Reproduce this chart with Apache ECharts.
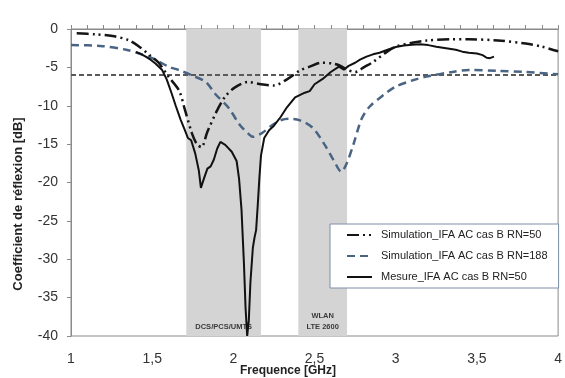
<!DOCTYPE html>
<html>
<head>
<meta charset="utf-8">
<script src="https://cdn.jsdelivr.net/npm/echarts@6/dist/echarts.min.js"></script>
<style>html,body{margin:0;padding:0;background:#fff}#c{width:565px;height:378px}</style>
</head>
<body>
<div id="c"></div>
<script>
// Simulation_IFA AC cas B RN=50 (dash-dot-dot)
var simRN50Freq = [1.035,1.15,1.256,1.36,1.42,1.49,1.54,1.60,1.665,1.70,1.745,1.775,1.803,1.84,1.90,1.95,2.01,2.09,2.17,2.25,2.335,2.41,2.47,2.54,2.61,2.66,2.70,2.75,2.81,2.86,2.93,3.0,3.1,3.19,3.33,3.45,3.63,3.80,3.90,4.0];
var simRN50Db   = [-0.55,-0.7,-0.9,-1.5,-2.3,-3.5,-4.4,-6.2,-8.0,-10.4,-13.6,-15.0,-15.4,-13.4,-10.6,-8.8,-7.6,-6.9,-7.2,-7.35,-6.5,-5.4,-4.9,-4.4,-4.5,-4.8,-5.3,-5.6,-4.9,-4.3,-3.2,-2.3,-1.8,-1.5,-1.35,-1.35,-1.5,-1.9,-2.3,-2.9];
// Simulation_IFA AC cas B RN=188 (dashed)
var simRN188Freq = [1.0,1.18,1.34,1.42,1.51,1.60,1.665,1.745,1.83,1.89,1.97,2.04,2.09,2.12,2.18,2.24,2.29,2.34,2.41,2.49,2.56,2.62,2.665,2.70,2.74,2.79,2.84,2.925,3.0,3.11,3.19,3.35,3.45,3.63,3.80,4.0];
var simRN188Db   = [-2.1,-2.2,-2.7,-3.2,-3.9,-4.9,-5.35,-6.05,-6.9,-8.5,-10.25,-12.5,-13.6,-14.05,-13.5,-12.5,-11.9,-11.7,-11.9,-12.9,-15.0,-17.2,-18.6,-17.4,-15.0,-11.7,-10.1,-8.6,-7.5,-6.65,-6.2,-5.6,-5.35,-5.45,-5.6,-5.9];
// Mesure_IFA AC cas B RN=50 (solid)
var mesFreq = [1.40,1.43,1.46,1.49,1.52,1.56,1.59,1.62,1.645,1.675,1.70,1.72,1.74,1.765,1.787,1.80,1.817,1.84,1.86,1.88,1.90,1.92,1.95,1.99,2.02,2.035,2.05,2.065,2.075,2.085,2.095,2.105,2.12,2.13,2.14,2.15,2.16,2.17,2.19,2.22,2.25,2.29,2.33,2.38,2.44,2.47,2.5,2.55,2.6,2.65,2.68,2.71,2.75,2.78,2.82,2.86,2.9,2.95,3.0,3.05,3.1,3.15,3.2,3.25,3.31,3.37,3.41,3.45,3.5,3.535,3.56,3.58,3.605];
var mesDb   = [-3.0,-3.25,-3.6,-4.0,-4.5,-5.3,-6.6,-8.4,-10.0,-11.8,-13.1,-14.2,-14.5,-16.2,-18.4,-20.7,-19.6,-18.2,-17.9,-17.0,-15.6,-14.7,-15.1,-16.0,-17.2,-19.5,-23.5,-30.5,-36.3,-40,-38,-33,-28.5,-27.2,-26.2,-23,-19.5,-16.5,-14.2,-13.2,-12.6,-11.5,-10.2,-8.9,-8.3,-8.1,-7.2,-6.5,-5.6,-4.9,-5.3,-4.8,-4.4,-4.0,-3.6,-3.3,-3.1,-2.7,-2.35,-2.15,-2.05,-2.0,-2.1,-2.3,-2.5,-2.7,-2.95,-3.1,-3.2,-3.4,-3.75,-3.8,-3.6];
// -6 dB reference
var refFreq = [1, 4];
var refDb = [-6, -6];
// frequency bands
var bands = [
  {name: 'DCS/PCS/UMTS', from: 1.71, to: 2.17},
  {name: 'WLAN\nLTE 2600', from: 2.4, to: 2.7}
];
var xTicks = {min: 1, max: 4, interval: 0.5};
var yTicks = {min: -40, max: 0, interval: 5};
var seriesNames = ['Simulation_IFA AC cas B RN=50', 'Simulation_IFA AC cas B RN=188', 'Mesure_IFA AC cas B RN=50'];

function zip(a, b) { return a.map(function (v, i) { return [v, b[i]]; }); }

var FONT = 'Liberation Sans';
var chart = echarts.init(document.getElementById('c'), null, {renderer: 'canvas'});
chart.setOption({
  animation: false,
  backgroundColor: '#fff',
  grid: {left: 71, right: 2, top: 29, bottom: 42, show: true, borderColor: '#8a8a8a', borderWidth: 1},
  xAxis: {
    type: 'value', min: xTicks.min, max: xTicks.max, interval: xTicks.interval,
    axisLine: {show: true, lineStyle: {color: '#8a8a8a', width: 1}},
    axisTick: {show: true, inside: true, length: 4, lineStyle: {color: '#8a8a8a'}},
    minorTick: {show: true, splitNumber: 5, length: 4, lineStyle: {color: '#8a8a8a'}},
    splitLine: {show: false},
    axisLabel: {margin: 16, color: '#333', fontSize: 14, fontFamily: FONT,
      formatter: function (v) { return String(v).replace('.', ','); }}
  },
  yAxis: {
    type: 'value', min: yTicks.min, max: yTicks.max, interval: yTicks.interval,
    axisLine: {show: true, lineStyle: {color: '#8a8a8a', width: 1}},
    axisTick: {show: true, inside: false, length: 4, lineStyle: {color: '#8a8a8a'}},
    splitLine: {show: false},
    axisLabel: {margin: 13, color: '#333', fontSize: 14, fontFamily: FONT}
  },
  legend: {
    data: seriesNames,
    orient: 'vertical', left: 330, top: 224,
    padding: [4, 11, 4, 16], itemGap: 7, itemWidth: 25, itemHeight: 12,
    itemStyle: {opacity: 0},
    backgroundColor: '#fff', borderColor: '#7d8fa6', borderWidth: 1,
    textStyle: {fontFamily: FONT, fontSize: 11, color: '#222', lineHeight: 14, padding: [0, 0, 0, 4]}
  },
  graphic: [
    {type: 'text', left: 240, top: 365, style: {text: 'Frequence [GHz]', font: 'bold 12px "Liberation Sans"', fill: '#222'}},
    {type: 'text', x: 18, y: 204, rotation: Math.PI / 2,
      style: {text: 'Coefficient de réflexion [dB]', font: 'bold 13px "Liberation Sans"', fill: '#222', align: 'center', verticalAlign: 'middle'}}
  ],
  series: [
    {
      name: 'ref', type: 'line', data: zip(refFreq, refDb), symbol: 'none', silent: true, z: 1,
      lineStyle: {color: '#595959', width: 2, type: [5, 3]},
      markArea: {
        silent: true,
        itemStyle: {color: '#d4d4d4'},
        label: {show: true, position: 'insideBottom', distance: 4, color: '#3a3a3a', fontSize: 7.5, fontWeight: 'bold', fontFamily: FONT, lineHeight: 11},
        data: bands.map(function (b) { return [{name: b.name, xAxis: b.from}, {xAxis: b.to}]; })
      }
    },
    {
      name: seriesNames[1], type: 'line', data: zip(simRN188Freq, simRN188Db), symbol: 'none', smooth: 0.3, z: 3,
      itemStyle: {color: '#4a6584'},
      lineStyle: {color: '#4a6584', width: 2.5, type: [8, 5]}
    },
    {
      name: seriesNames[0], type: 'line', data: zip(simRN50Freq, simRN50Db), symbol: 'none', smooth: 0.3, z: 4,
      itemStyle: {color: '#151515'},
      lineStyle: {color: '#151515', width: 2.5, type: [12, 4, 2, 4, 2, 4]}
    },
    {
      name: seriesNames[2], type: 'line', data: zip(mesFreq, mesDb), symbol: 'none', z: 5,
      itemStyle: {color: '#111'},
      lineStyle: {color: '#111', width: 2}
    }
  ]
});
</script>
</body>
</html>
